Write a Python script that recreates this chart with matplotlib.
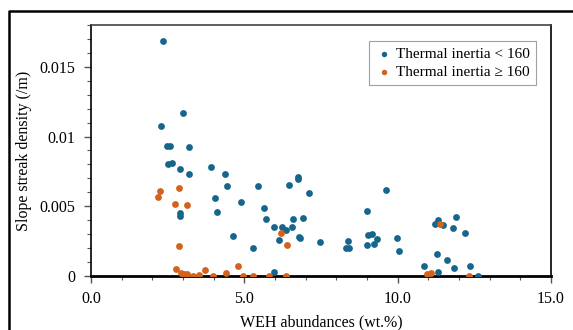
import matplotlib.pyplot as plt
import matplotlib.ticker as ticker
from matplotlib.lines import Line2D

# WEH abundance (wt.%) and slope streak density (/m), thermal inertia < 160
low_x = [2.36, 2.99, 2.28, 2.49, 2.58, 3.20, 2.50, 2.65, 2.90, 3.92,
         3.20, 4.36, 4.44, 4.05, 4.10, 4.90, 5.45, 2.91, 2.91, 4.64,
         5.28, 5.64, 5.71, 5.97, 6.23, 6.36, 6.55, 6.13, 6.58, 6.46,
         5.98, 6.77, 6.75, 6.75, 7.10, 6.90, 6.81, 7.47, 8.37, 8.30,
         8.41, 9.00, 9.04, 9.16, 8.99, 9.24, 9.31, 9.63, 9.97, 10.05,
         10.87, 11.31, 11.23, 11.48, 11.29, 11.62, 11.33, 11.89, 11.81, 12.19,
         11.85, 12.37, 12.63]
low_y = [0.01687, 0.01166, 0.01078, 0.00932, 0.00932, 0.00923, 0.00803, 0.00808, 0.00767, 0.00779,
         0.00734, 0.00734, 0.00645, 0.00557, 0.00459, 0.00531, 0.00645, 0.00450, 0.00432, 0.00289,
         0.00199, 0.00485, 0.00407, 0.00351, 0.00351, 0.00330, 0.00351, 0.00258, 0.00407, 0.00650,
         0.00029, 0.00277, 0.00712, 0.00693, 0.00593, 0.00418, 0.00272, 0.00246, 0.00253, 0.00201,
         0.00201, 0.00464, 0.00294, 0.00301, 0.00222, 0.00232, 0.00263, 0.00614, 0.00272, 0.00177,
         0.00072, 0.00401, 0.00373, 0.00366, 0.00160, 0.00112, 0.00029, 0.00423, 0.00342, 0.00306,
         0.00055, 0.00070, 0.00000]

# thermal inertia >= 160
high_x = [2.18, 2.25, 2.88, 2.74, 3.12, 2.88, 2.77, 2.92, 3.03, 3.14,
          3.32, 3.53, 3.73, 3.99, 4.40, 4.79, 4.97, 5.29, 5.81, 6.19,
          6.36, 6.40, 11.38, 10.97, 11.10, 12.31]
high_y = [0.00566, 0.00609, 0.00633, 0.00516, 0.00511, 0.00217, 0.00048, 0.00024, 0.00014, 0.00014,
          0.00000, 0.00005, 0.00041, 0.00000, 0.00024, 0.00072, 0.00000, 0.00000, 0.00000, 0.00310,
          0.00000, 0.00220, 0.00373, 0.00014, 0.00024, 0.00000]

x_ticks = [0, 5, 10, 15]
x_labels = ["0.0", "5.0", "10.0", "15.0"]
y_ticks = [0, 0.005, 0.01, 0.015]
y_labels = ["0", "0.005", "0.01", "0.015"]

blue = "#16668b"
orange = "#d2621c"


def main():
  plt.rcParams['font.family'] = ['Liberation Serif', 'DejaVu Serif']
  plt.rc('font', size=11)

  fig = plt.figure(figsize=(5.73, 3.30), dpi=100)
  ax = fig.add_axes([91 / 573, 54 / 330, 460 / 573, 251 / 330])

  ax.scatter(low_x, low_y, s=24, color=blue, linewidths=0, label="Thermal inertia < 160", zorder=3)
  ax.scatter(high_x, high_y, s=24, color=orange, linewidths=0, label="Thermal inertia ≥ 160", zorder=3)

  ax.set_xlim(0, 15)
  ax.set_ylim(0, 0.018)
  ax.set_xticks(x_ticks)
  ax.set_xticklabels(x_labels)
  ax.set_yticks(y_ticks)
  ax.set_yticklabels(y_labels)
  ax.xaxis.set_minor_locator(ticker.MultipleLocator(1))
  ax.yaxis.set_minor_locator(ticker.MultipleLocator(0.001))
  ax.tick_params(which="major", length=5, width=1, color="#555555", labelsize=11.5, pad=6)
  ax.tick_params(which="minor", length=3, width=0.8, color="#555555")

  for side in ["top", "right", "left"]:
    ax.spines[side].set_linewidth(1.2)
  ax.spines["bottom"].set_linewidth(2)
  ax.spines["top"].set_color("#444444")

  ax.set_xlabel("WEH abundances (wt.%)", fontsize=11.5, labelpad=5)
  ax.set_ylabel("Slope streak density (/m)", fontsize=11.5, labelpad=6)

  leg = ax.legend(loc="upper right", bbox_to_anchor=(1 - 15 / 460, 1 - 16 / 251), fontsize=11,
                  frameon=True, fancybox=False, edgecolor="#888888", handletextpad=0.2,
                  handlelength=1.2, borderpad=0.4, labelspacing=0.3, markerscale=0.8,
                  borderaxespad=0)
  leg.get_frame().set_linewidth(0.8)

  # Outer frame of the figure panel.
  fig.add_artist(Line2D([9 / 573, 9 / 573, 1.0], [0, 1 - 11 / 330, 1 - 11 / 330],
                        transform=fig.transFigure, color="black", linewidth=1.8))

  plt.savefig("out.png", dpi=100)


if __name__ == "__main__":
  main()
